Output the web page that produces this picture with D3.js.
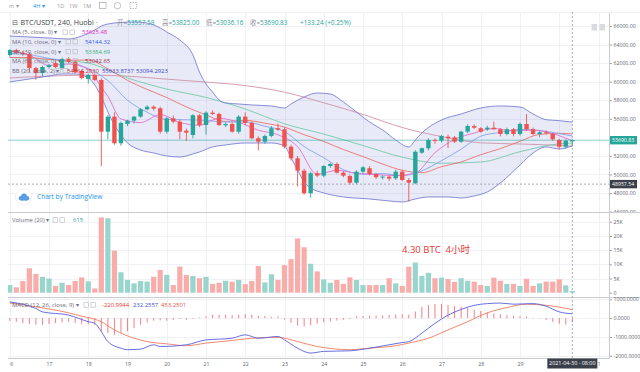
<!DOCTYPE html>
<html><head><meta charset="utf-8">
<script src="https://cdn.jsdelivr.net/npm/d3@7/dist/d3.min.js"></script>
<style>
html,body{margin:0;padding:0;background:#fff;overflow:hidden}
svg{display:block}
text{font-family:"Open Sans","Noto Sans","Noto Sans CJK SC",sans-serif}
</style></head><body>
<svg id="c" width="640" height="372"></svg>
<script>
// ---------------- DATA ----------------
const startUTC = Date.UTC(2021, 3, 16, 0); // first 4h candle: 2021-04-16 00:00
const opens = [62875,63414,63120,62980,61470,60930,61580,62010,61480,62440,
62120,61150,60290,60720,60180,54610,56230,53360,55440,55800,
56230,57020,57300,57130,54610,56050,55690,54720,54250,56380,
55330,56660,56520,55300,55440,54610,56230,55550,53900,53530,
54150,54980,54870,52990,51740,50410,47970,50130,49870,50910,
51130,50190,49840,49110,50300,50670,50050,49680,49760,49590,
50300,49400,49050,52350,52820,53710,53640,54070,54000,53530,
54610,55220,54980,54870,55040,54870,54360,54870,54360,55440,
54870,54360,54545,54360,53715,52990,53557.58];
const highs = [63500,63550,63300,63200,61600,61700,61900,62200,62600,62650,
62300,61300,60850,60900,60350,56400,56700,55700,55900,56300,
57150,57450,57450,57300,56200,56350,55900,54950,56500,56500,
56800,56900,56650,55600,55600,56400,56700,55700,54100,54300,
55200,55500,55100,53200,52000,50600,50300,50400,51000,51250,
51300,50350,50000,50450,50900,50900,50150,49900,49900,50500,
50500,49600,52600,52900,53900,53900,54250,54300,54150,54700,
55400,55400,55100,55250,55700,55000,55050,55000,55600,56520,
55050,54700,54750,54500,53850,53750,53825];
const lows = [62700,63000,62800,61000,60200,60600,61400,61450,61300,61950,
60900,60250,59800,60050,50900,53800,53200,53100,55200,55500,
56100,56900,56900,54400,54400,55500,53800,53600,53900,55100,
54300,56400,55200,55100,54500,54400,55300,53800,52600,53300,
54000,54700,52800,51500,48700,47800,47500,49700,49700,50700,
50100,49700,48900,48950,50150,49900,49500,49450,49300,49400,
49300,47070,48950,52200,52600,53300,53450,52850,53400,53400,
54450,54900,54500,54700,54800,54100,54200,54100,54200,54700,
54200,54000,54300,53600,52700,52750,53036.16];
const closes = [63414,63120,62980,61470,60930,61580,61800,61580,62440,62120,
61040,60400,60720,60180,54610,56230,53360,55550,55800,56230,
57020,57300,57090,54610,56050,55690,54610,54500,56380,55330,
56660,56520,55330,55440,54610,56230,55550,53900,53530,54150,
54980,54820,52990,51740,50410,47970,50130,49870,50910,51130,
50190,49870,49110,50300,50770,50050,49700,49760,49550,50300,
49400,49110,52450,52820,53710,53610,54150,53900,53530,54610,
55220,55040,54610,55040,54870,54360,54870,54360,55440,54870,
54360,54545,54440,53790,52990,53640,53690.83];
const volumes = [2700,1900,4100,8600,6600,5600,5000,2400,3500,2700,
4100,5400,4000,1500,26500,26200,14800,7200,4500,3300,
4100,3900,5600,8000,6300,2700,9200,6200,5900,5100,
5600,3100,3500,4200,3900,4500,3000,4100,9400,3600,
6500,4500,9700,11800,19100,16000,10200,7500,4700,3500,
4500,3100,5400,4500,2700,2700,2700,2700,5100,3300,
2400,9200,10600,5900,7000,5100,5300,4800,3800,5100,
4200,3900,2700,2400,5300,4200,3100,3100,2400,4900,
2400,3300,3900,3900,4700,2600,615];
const macdHist = [-150,-200,-260,-320,-350,-350,-320,-260,-230,-200,-260,-320,-320,-350,
-700,-790,-880,-790,-700,-530,-350,
-230,-140,-120,-140,-90,-50,-90,-40,
30,100,
180,180,180,150,180,200,180,120,120,60,100,
-80,-250,-400,-440,-380,-300,-230,-180,-130,-90,-50,100,
110,120,130,140,160,190,200,180,350,
600,700,750,760,700,650,600,550,430,380,300,250,200,150,120,100,80,20,-20,-100,-200,-300,-350,-221];

// indicator lines (candle index -> value)
const ma5Idx = [0,3,6,9,12,14,15,17,20,23,26,29,32,35,38,41,44,47,50,53,56,59,62,65,68,71,74,77,80,83,86];
const ma5Vals = [63300,62857,61752,61904,61344,59390,58428,55986,55592,56450,55610,55302,56044,55626,54764,54276,52988,50024,50446,50120,49986,49872,50162,52340,53780,54460,54956,54700,54780,54401,53625];
const ma10Idx = [0,3,6,9,12,15,18,21,24,27,30,33,36,39,42,45,48,51,54,57,60,63,66,69,72,75,78,81,84,86];
const ma10Vals = [63000,62900,62509,62143,61408,60112,58001,56700,55924,55890,55822,55651,55656,55192,54620,53004,51797,50521,50025,50089,49881,50391,51486,52729,54125,54533,54842,54733,54403,54144];
const ma30Idx = [0,6,12,18,24,30,36,42,48,54,60,66,72,78,84,86];
const ma30Vals = [62600,62400,62000,60400,59200,58300,57053,55460,54350,53120,51865,51205,51340,52450,53303,53384];
const ma60Idx = [0,6,12,18,24,30,36,42,48,54,60,66,72,78,84,86];
const ma60Vals = [60400,60600,60700,60592,60270,59955,59577,58865,57723,56468,55055,54084,53408,53283,53127,53042];
const bbBasisIdx = [0,3,6,9,12,15,18,21,24,27,30,33,36,39,42,45,48,51,54,57,60,63,66,69,72,75,78,81,84,86];
const bbBasisVals = [62600,62600,62400,62300,62335,61391,60131,59167,58286,57278,56416,55716,55825,55525,55094,54283,53554,52688,51928,51119,50449,50190,50838,51345,52130,52787,53570,54318,54430,54364];
const bbUpperIdx = [0,3,6,9,11,13,14,15,17,19,21,23,24,26,28,29,30,31,32,33,35,37,40,42,43,45,47,49,51,53,55,57,59,61,62,63,66,69,72,75,78,80,82,84,86];
const bbUpperVals = [64922,64815,64707,64599,64922,65569,66000,66216,66377,66431,66323,65784,65353,64491,62875,61043,59750,58888,58026,57702,57595,57487,57379,57164,57595,58349,58780,58672,57810,56732,55655,54793,53715,52961,53715,54470,55870,56517,57164,57379,57272,56517,55900,55800,55634];
const bbLowerIdx = [0,3,6,8,10,12,13,14,15,16,17,18,20,22,24,26,28,29,31,33,36,40,42,43,44,45,46,48,51,55,58,60,62,64,67,69,71,73,75,78,80,82,84,86];
const bbLowerVals = [59966,60289,60612,60828,60828,60396,59642,58349,56733,55332,54254,53392,52637,52314,51991,51883,52207,52422,52961,53176,53392,53392,53069,51776,50483,49189,48543,48004,47573,47358,47142,47034,47358,47573,47573,47465,47681,48112,49082,51022,52314,52961,52745,53094];
const macdIdx = [0,4,5,9,12,13,14,15,17,18,20,22,23,27,30,32,34,36,38,41,42,44,46,48,52,55,58,60,61,63,65,67,69,71,73,75,77,80,82,84,86];
const macdVals = [860,510,330,160,-190,-280,-720,-1250,-1600,-1680,-1650,-1420,-1510,-1420,-1160,-1120,-1070,-890,-1070,-980,-1160,-1600,-1860,-1770,-1740,-1600,-1420,-1300,-1250,-800,-280,160,460,680,770,800,740,770,630,330,232];
const signalIdx = [0,4,9,11,14,16,19,21,24,27,30,34,37,41,44,47,52,55,59,61,64,67,70,73,76,79,82,86];
const signalVals = [800,600,280,105,-190,-630,-1070,-1250,-1370,-1470,-1330,-1190,-1070,-1020,-1250,-1510,-1680,-1600,-1470,-1330,-1070,-630,-190,280,560,740,680,453];

// tick values / labels
const priceTicks = [46000,48000,50000,52000,56000,58000,60000,62000,64000,66000];
const volTicks = [0,5000,10000,15000,20000,25000];
const macdTicks = [1000,0,-1000,-2000];
const dayTicks = d3.utcDays(new Date(Date.UTC(2021,3,16)), new Date(Date.UTC(2021,4,2)))
  .filter(d => d.getUTCDate() !== 30);   // day 30 sits under the crosshair time label
const gridDays = d3.utcDays(new Date(Date.UTC(2021,3,16)), new Date(Date.UTC(2021,4,2)));
const headerTitle = "BTC/USDT, 240, Huobi";
const ohlcLabels = ["开=","高=","低=","收="];
const ohlcValues = ["53557.58","53825.00","53036.16","53690.83"];
const changeText = "+133.24 (+0.25%)";
const maLabels = ["MA (5, close, 0) ▾","MA (10, close, 0) ▾","MA (30, close, 0) ▾","MA (60, close, 0) ▾"];
const maValues = ["53625.48","54144.32","53384.69","53042.65"];
const bbLabel = "BB (20, close, 2) ▾";
const bbValues = ["54364.2830","55633.8737","53094.2923"];
const volLabel = "Volume (20) ▾", volValue = "615";
const macdLabel = "MACD (12, 26, close, 9) ▾";
const macdValues = ["-220.9944","232.2557","453.2501"];
const lastPrice = 53690.83, crossPrice = 48957.54;
const crossTimeLabel = "2021-04-30 - 08:00";
const annotation = "4.30 BTC  4小时";
const toolbarItems = ["m ▾","4H ▾","1D","1W","1M"];

// ---------------- COLORS ----------------
const UP = "#26a69a", DOWN = "#ef5350";
const C = {ma5:"#df6fd2", ma10:"#86a3ee", ma30:"#74cba8", ma60:"#cf93a8", basis:"#e8736f",
  band:"#7b7fd4", bandFill:"rgba(120,123,210,0.16)", macd:"#5560df", signal:"#f07a5a", hist:"#f0707c"};

// ---------------- SCALES ----------------
const svg = d3.select("#c");
const L = 8, R = 609.5;
const H4 = 4*3600*1000;
const tAt = i => new Date(startUTC + i*H4);
const x = d3.scaleUtc().domain([new Date(Date.UTC(2021,3,17)), new Date(Date.UTC(2021,3,29))]).range([49,520]);
const xi = i => x(tAt(i));
const yP = d3.scaleLinear().domain([48000,66000]).range([193,26]);
const yV = d3.scaleLinear().domain([0,25000]).range([292.7,221.7]);
const yM = d3.scaleLinear().domain([-2000,1000]).range([355.7,299.3]);

const defs = svg.append("defs");
function clip(id,x0,y0,x1,y1){defs.append("clipPath").attr("id",id).append("rect").attr("x",x0).attr("y",y0).attr("width",x1-x0).attr("height",y1-y0);}
clip("cMain",L,12,R,212); clip("cVol",L,212,R,297); clip("cMacd",L,297,R,358);
clip("cAxP",R,12,640,212); clip("cAxM",R,297,640,358); clip("cX",9.5,358,640,372);

// ---------------- GRID ----------------
const grid = svg.append("g").attr("stroke","#f0f1f5").attr("stroke-width",1);
gridDays.forEach(d=>{const xx=Math.round(x(d))+0.5; if(xx>L&&xx<R) grid.append("line").attr("x1",xx).attr("x2",xx).attr("y1",12).attr("y2",358);});
priceTicks.forEach(p=>{const yy=Math.round(yP(p))+0.5; if(yy>12&&yy<212) grid.append("line").attr("x1",L).attr("x2",R).attr("y1",yy).attr("y2",yy);});
volTicks.slice(1).forEach(v=>{const yy=Math.round(yV(v))+0.5; grid.append("line").attr("x1",L).attr("x2",R).attr("y1",yy).attr("y2",yy);});
macdTicks.forEach(v=>{const yy=Math.round(yM(v))+0.5; if(yy<358) grid.append("line").attr("x1",L).attr("x2",R).attr("y1",yy).attr("y2",yy);});

// ---------------- MAIN PANE ----------------
const main = svg.append("g").attr("clip-path","url(#cMain)");
const cur = d3.line().curve(d3.curveMonotoneX);
const pts = (idx,vals,ys)=>idx.map((i,k)=>[xi(i),ys(vals[k])]);
const upPts = pts(bbUpperIdx,bbUpperVals,yP), loPts = pts(bbLowerIdx,bbLowerVals,yP);
main.append("path").attr("d", cur(upPts) + cur(loPts.slice().reverse()).replace(/^M/,"L") + "Z").attr("fill",C.bandFill);
function drawLine(g,idx,vals,ys,color,w){g.append("path").attr("d",cur(pts(idx,vals,ys))).attr("fill","none").attr("stroke",color).attr("stroke-width",w);}
drawLine(main,ma60Idx,ma60Vals,yP,C.ma60,0.9);
drawLine(main,ma30Idx,ma30Vals,yP,C.ma30,0.9);
drawLine(main,bbBasisIdx,bbBasisVals,yP,C.basis,0.9);
drawLine(main,bbUpperIdx,bbUpperVals,yP,C.band,0.9);
drawLine(main,bbLowerIdx,bbLowerVals,yP,C.band,0.9);
drawLine(main,ma10Idx,ma10Vals,yP,C.ma10,0.9);
drawLine(main,ma5Idx,ma5Vals,yP,C.ma5,0.9);

// current price line
main.append("line").attr("x1",L).attr("x2",R).attr("y1",yP(lastPrice)).attr("y2",yP(lastPrice)).attr("stroke",UP).attr("stroke-width",0.7).attr("opacity",0.75);

// candles
const cg = main.append("g");
opens.forEach((o,i)=>{
  const c = closes[i], col = c>=o?UP:DOWN, cx = xi(i);
  cg.append("line").attr("x1",cx).attr("x2",cx).attr("y1",yP(highs[i])).attr("y2",yP(lows[i])).attr("stroke",col).attr("stroke-width",0.9);
  const top = yP(Math.max(o,c)), bot = yP(Math.min(o,c));
  cg.append("rect").attr("x",cx-2.2).attr("width",4.4).attr("y",top).attr("height",Math.max(0.9,bot-top)).attr("fill",col);
});

// ---------------- VOLUME ----------------
const vg = svg.append("g").attr("clip-path","url(#cVol)");
volumes.forEach((v,i)=>{
  const col = closes[i]>=opens[i] ? "#97d5cd" : "#f8adab";
  vg.append("rect").attr("x",xi(i)-2.6).attr("width",5.2).attr("y",yV(v)).attr("height",yV(0)-yV(v)).attr("fill",col);
});
svg.append("text").attr("x",402).attr("y",252.8).attr("font-size",9.5).attr("fill","#e53935").attr("style","white-space:pre").text(annotation);

// ---------------- MACD ----------------
const mg = svg.append("g").attr("clip-path","url(#cMacd)");
macdHist.forEach((h,i)=>{
  mg.append("line").attr("x1",xi(i)).attr("x2",xi(i)).attr("y1",yM(0)).attr("y2",yM(h)).attr("stroke",C.hist).attr("stroke-width",0.9);
});
drawLine(mg,signalIdx,signalVals,yM,C.signal,0.9);
drawLine(mg,macdIdx,macdVals,yM,C.macd,0.9);

// ---------------- FRAME ----------------
const fr = svg.append("g").attr("stroke","#c9cbd1").attr("stroke-width",1);
fr.append("line").attr("x1",L).attr("x2",640).attr("y1",212.5).attr("y2",212.5);
fr.append("line").attr("x1",L).attr("x2",640).attr("y1",297.5).attr("y2",297.5);
fr.append("line").attr("x1",L).attr("x2",R).attr("y1",358.5).attr("y2",358.5);
fr.append("line").attr("x1",R).attr("x2",R).attr("y1",12).attr("y2",358.5);
svg.append("line").attr("x1",0).attr("x2",640).attr("y1",12.5).attr("y2",12.5).attr("stroke","#f0f0f0");

// crosshair
const ch = svg.append("g").attr("stroke","#9598a1").attr("stroke-width",0.8).attr("stroke-dasharray","2,2");
ch.append("line").attr("x1",xi(86)).attr("x2",xi(86)).attr("y1",12).attr("y2",358);
ch.append("line").attr("x1",L).attr("x2",R).attr("y1",yP(crossPrice)).attr("y2",yP(crossPrice));

// ---------------- AXES ----------------
const FONT = '"Open Sans","Noto Sans",sans-serif';
function styleAxis(g){g.select(".domain").remove(); g.attr("font-family",FONT).attr("font-size",5.2);
  g.selectAll("text").attr("fill","#5d606b"); g.selectAll("line").attr("stroke","#a0a3ab");}
svg.append("g").attr("clip-path","url(#cAxP)").append("g").attr("transform",`translate(${R},0)`)
  .call(d3.axisRight(yP).tickValues(priceTicks).tickFormat(d=>d.toFixed(2)).tickSize(2.5).tickPadding(1.5)).call(styleAxis);
svg.append("g").append("g").attr("transform",`translate(${R},0)`)
  .call(d3.axisRight(yV).tickValues(volTicks).tickFormat(d=>d===0?"0":(d/1000)+"K").tickSize(2.5).tickPadding(1.5)).call(styleAxis);
svg.append("g").attr("clip-path","url(#cAxM)").append("g").attr("transform",`translate(${R},0)`)
  .call(d3.axisRight(yM).tickValues(macdTicks).tickFormat(d=>d.toFixed(4)).tickSize(2.5).tickPadding(1.5)).call(styleAxis);
svg.append("g").attr("clip-path","url(#cX)").append("g").attr("transform","translate(0,359)")
  .call(d3.axisBottom(x).tickValues(dayTicks).tickFormat(d3.utcFormat("%-d")).tickSize(0).tickPadding(3.5)).call(styleAxis);

// price label boxes
function priceBox(p,bg){const yy=yP(p);
  svg.append("rect").attr("x",R+0.5).attr("y",yy-4.2).attr("width",27).attr("height",8.4).attr("fill",bg);
  svg.append("text").attr("x",R+2.5).attr("y",yy+1.9).attr("font-size",5.2).attr("fill","#fff").text(p.toFixed(2));}
priceBox(lastPrice,"#26a69a");
priceBox(crossPrice,"#3b3f4a");
// time label box
const tx = xi(86);
svg.append("rect").attr("x",tx-25).attr("y",358.5).attr("width",50).attr("height",10).attr("fill","#3b3f4a");
svg.append("text").attr("x",tx).attr("y",365.4).attr("text-anchor","middle").attr("font-size",5.4).attr("fill","#fff").text(crossTimeLabel);

// ---------------- TOOLBAR ----------------
const tbX = [9,33,57,69,83];
toolbarItems.forEach((s,k)=>{
  svg.append("text").attr("x",tbX[k]).attr("y",8).attr("font-size",5.6).attr("fill",k===1?"#2196f3":"#9a9ca3").text(s);
});
svg.append("rect").attr("x",99.5).attr("y",2.5).attr("width",6.5).attr("height",6).attr("fill","none").attr("stroke","#a6a8ae").attr("stroke-width",0.7);
svg.append("circle").attr("cx",117.5).attr("cy",5.7).attr("r",3.2).attr("fill","none").attr("stroke","#a6a8ae").attr("stroke-width",0.7);
svg.append("rect").attr("x",130).attr("y",2.5).attr("width",6.5).attr("height",6).attr("fill","none").attr("stroke","#a6a8ae").attr("stroke-width",0.7).attr("stroke-dasharray","1.5,1");
// top-right buttons
[591.5,599.5].forEach(xx=>svg.append("rect").attr("x",xx).attr("y",24).attr("width",5.5).attr("height",6.5).attr("fill","#d9dbe1"));

// ---------------- LEGENDS ----------------
svg.append("text").attr("x",12).attr("y",25).attr("font-size",7).attr("fill","#555").text("⊟");
svg.append("text").attr("x",20.5).attr("y",25).attr("font-size",7.1).attr("fill","#3d3f46").text(headerTitle + " ·");
const ohlcX = [117,162,206,250];
ohlcLabels.forEach((lab,k)=>{
  const t = svg.append("text").attr("x",ohlcX[k]).attr("y",25).attr("font-size",6.4);
  t.append("tspan").attr("fill","#8a8d96").text(lab);
  t.append("tspan").attr("fill","#26a69a").text(ohlcValues[k]);
});
svg.append("text").attr("x",300).attr("y",25).attr("font-size",6.4).attr("fill","#26a69a").text(changeText);

const maY = [34.3,43.7,53.7,63];
const maCols = ["#e22bbd","#2c5be6","#35b07a","#8c2f3f"];
const maValX = [82,85,85,85];
function icons(x0,y0){[0,7].forEach(dx=>svg.append("rect").attr("x",x0+dx).attr("y",y0-4.3).attr("width",4.5).attr("height",4.5).attr("fill","none").attr("stroke","#b5b7bd").attr("stroke-width",0.6));}
maLabels.forEach((lab,k)=>{
  svg.append("text").attr("x",12).attr("y",maY[k]).attr("font-size",5.9).attr("fill","#6a6d78").text(lab);
  icons(k===0?63:66,maY[k]);
  svg.append("text").attr("x",maValX[k]).attr("y",maY[k]).attr("font-size",5.9).attr("fill",maCols[k]).text(maValues[k]);
});
svg.append("text").attr("x",12).attr("y",72.6).attr("font-size",5.9).attr("fill","#6a6d78").text(bbLabel);
icons(56,72.6);
const bbX = [67,102,136], bbCols = ["#c2323a","#3b3fc4","#3b3fc4"];
bbValues.forEach((v,k)=>svg.append("text").attr("x",bbX[k]).attr("y",72.6).attr("font-size",5.9).attr("fill",bbCols[k]).text(v));

svg.append("text").attr("x",12).attr("y",222).attr("font-size",5.9).attr("fill","#6a6d78").text(volLabel);
icons(53,222);
svg.append("text").attr("x",73).attr("y",222).attr("font-size",5.9).attr("fill","#26a69a").text(volValue);

svg.append("text").attr("x",12).attr("y",307).attr("font-size",5.9).attr("fill","#6a6d78").text(macdLabel);
icons(84,307);
const mvX = [102,133,161], mvCols = ["#e53935","#3b4fd8","#e5533b"];
macdValues.forEach((v,k)=>svg.append("text").attr("x",mvX[k]).attr("y",307).attr("font-size",5.9).attr("fill",mvCols[k]).text(v));

// watermark
svg.append("circle").attr("cx",23.5).attr("cy",197).attr("r",8).attr("fill","#fff").attr("stroke","#eef0f4");
const cl = svg.append("g").attr("fill","#5a9de6");
cl.append("circle").attr("cx",21).attr("cy",198.3).attr("r",2.3);
cl.append("circle").attr("cx",24).attr("cy",196.6).attr("r",3);
cl.append("circle").attr("cx",27).attr("cy",198.3).attr("r",2.3);
cl.append("rect").attr("x",21).attr("y",198).attr("width",6).attr("height",2.6);
svg.append("text").attr("x",37).attr("y",199.3).attr("font-size",6.6).attr("fill","#2196f3").text("Chart by TradingView");
</script>
</body></html>
